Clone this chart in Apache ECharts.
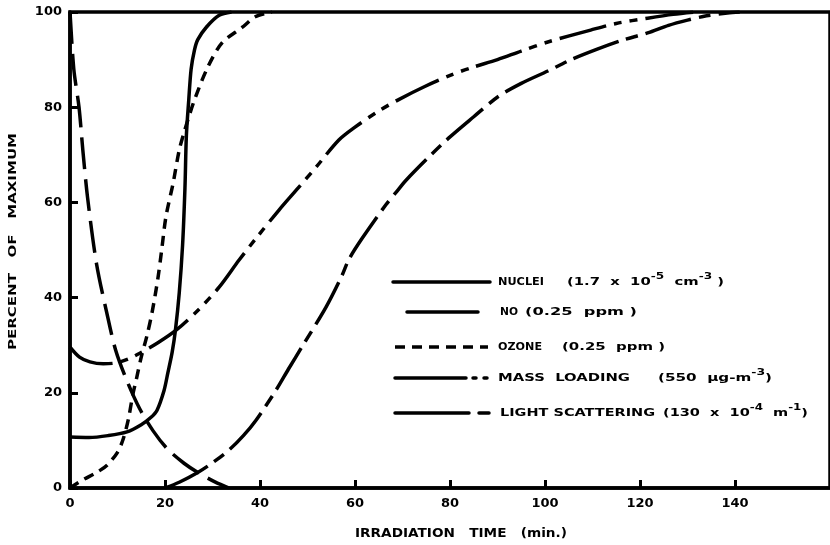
<!DOCTYPE html>
<html>
<head>
<meta charset="utf-8">
<script src="https://cdn.jsdelivr.net/npm/echarts@6/dist/echarts.min.js"></script>
<style>
  html, body { margin: 0; padding: 0; background: #fff; }
  #chart { width: 830px; height: 545px; }
</style>
</head>
<body>
<div id="chart"></div>
<script>
// Tick values shown on the axes
const xTickLabels = [0, 20, 40, 60, 80, 100, 120, 140];
const yTickLabels = [0, 20, 40, 60, 80, 100];

// [irradiation time (min), percent of maximum]
const nuclei = [
  [0, 10.7], [4, 10.6], [8, 11], [12, 11.8], [15, 13.3], [17, 14.8], [18.3, 16.3],
  [19.8, 20.5], [20.6, 24.2], [21.5, 28.5], [22.2, 33.2], [23, 41], [23.7, 51],
  [24.2, 63], [24.5, 74], [25, 81.5], [25.5, 88], [26.2, 92], [26.9, 94.2],
  [28.7, 96.8], [31.4, 99.3], [34, 100]
];
const nitricOxide = [
  [0, 100], [0.8, 88], [1.9, 80], [2.7, 71], [3.7, 61], [5.6, 47], [7.7, 37],
  [9.6, 29], [12, 22.5], [14.7, 16.6], [17.5, 12], [20.5, 8.2], [24, 5.2],
  [27, 3.2], [30.5, 1.3], [33.5, 0]
];
const ozone = [
  [0, 0], [2.7, 1.7], [5.5, 3.2], [7.8, 4.8], [10, 7.5], [11.2, 10.3], [12.3, 14.5],
  [13.2, 19.5], [14, 23], [15, 27.5], [16.2, 32], [17.3, 37], [18.5, 44], [19.3, 50],
  [20.2, 57], [21.7, 64], [23, 71], [24.1, 75], [26.2, 81.5], [29, 88.4], [32, 93.5],
  [36.3, 96.8], [39, 99], [42.5, 100]
];
const massLoading = [
  [0, 29.6], [2, 27.5], [4.2, 26.5], [7, 26.1], [9.8, 26.3], [12.5, 27.2], [14.7, 28.3],
  [18.5, 30.5], [22.4, 33.2], [27, 37.4], [31.4, 42.2], [35.6, 47.9], [39.2, 52.5],
  [44, 58.4], [48, 63], [51.8, 67.4], [56.6, 73.1], [60, 75.8], [65, 79.2], [69.2, 81.6],
  [74.8, 84.4], [80.3, 86.8], [84.5, 88.3], [90, 90], [95, 91.8], [100.6, 93.7],
  [109.6, 96.2], [115, 97.6], [121.6, 98.7], [127, 99.5], [132, 100]
];
const lightScattering = [
  [20, 0], [23, 1.2], [26.8, 3.2], [30, 5.3], [33.5, 8], [36.5, 11], [39.2, 14.3],
  [43.4, 20.6], [46, 25], [48.8, 29.6], [53.9, 38], [57.2, 44.5], [58.7, 48],
  [61.4, 52.3], [66.5, 59.5], [69.2, 62.8], [70.6, 64.5], [75, 69], [79.7, 73.5],
  [85, 78], [90.1, 82.2], [95, 85], [100.6, 87.6], [105.5, 90], [111, 92.2], [116, 94],
  [121.6, 95.6], [126, 97.2], [130, 98.3], [134, 99.2], [138.4, 99.8], [141, 100]
];

// Key entries: name and parenthetical unit text ({s|..} marks a superscript)
const keyNames = ['NUCLEI', 'NO', 'OZONE', 'MASS  LOADING', 'LIGHT SCATTERING'];
const keyUnits = ['(1.7  x  10{s|-5}  cm{s|-3} )', '(0.25  ppm )', '(0.25  ppm )', '(550  µg-m{s|-3})', '(130  x  10{s|-4}  m{s|-1})'];

// ---- styling ----
const INK = '#000';
const FONT = 'DejaVu Sans';
const LW = 3.5;
// dash / gap lengths in pixels
const dashPx = {
  longDash: [32, 10],
  shortDash: [10, 7],
  dashDotDot: [48, 8, 8, 8, 8, 8],
  dashDot: [48, 8, 12, 8]
};

function curve(name, data, dash, z) {
  return {
    name, type: 'line', data, z,
    showSymbol: false, symbol: 'none', smooth: 0.3,
    lineStyle: { color: INK, width: LW, type: dash || 'solid', cap: 'butt', join: 'round' },
    emphasis: { disabled: true }
  };
}

// Text measuring for fitting labels to a set width
const measureCtx = document.createElement('canvas').getContext('2d');
function richWidth(text, size, supSize) {
  let w = 0;
  text.split(/(\{s\|[^}]*\})/).forEach(part => {
    if (!part) return;
    const m = part.match(/^\{s\|([^}]*)\}$/);
    measureCtx.font = 'bold ' + (m ? supSize : size) + 'px "' + FONT + '"';
    w += measureCtx.measureText(m ? m[1] : part).width;
  });
  return w;
}
function fittedText(text, x, y, width, size, extra) {
  const supSize = Math.round(size * 0.8);
  const rich = text.indexOf('{s|') >= 0;
  const body = rich ? text.replace(/(^|\})([^{]+)/g, (m, a, b) => a + '{a|' + b + '}') : text;
  const el = {
    type: 'text', silent: true, x, y,
    scaleX: width / richWidth(text, size, supSize),
    style: {
      text: body, fill: INK,
      font: 'bold ' + size + 'px "' + FONT + '"',
      textAlign: 'left', textVerticalAlign: 'middle'
    }
  };
  if (rich) {
    el.style.rich = {
      a: { fontSize: size, fontWeight: 'bold', fontFamily: FONT, lineHeight: size + 8, verticalAlign: 'middle', fill: INK },
      s: { fontSize: supSize, fontWeight: 'bold', fontFamily: FONT, lineHeight: supSize + 1, verticalAlign: 'top', fill: INK }
    };
  }
  return Object.assign(el, extra || {});
}

// Key layout (pixel positions)
const keyRows = [
  { y: 282, seg: [[393, 490]], dash: null, nameX: 498, nameW: 46, unitX: 567, unitW: 157 },
  { y: 312, seg: [[407, 478]], dash: null, nameX: 500, nameW: 18, unitX: 525, unitW: 112 },
  { y: 347, seg: [[395, 488]], dash: dashPx.shortDash, nameX: 498, nameW: 44, unitX: 562, unitW: 103 },
  { y: 378, seg: [[395, 466], [473, 476], [484, 487]], dash: null, nameX: 498, nameW: 132, unitX: 658, unitW: 114 },
  { y: 413, seg: [[395, 469], [479, 489]], dash: null, nameX: 500, nameW: 155, unitX: 663, unitW: 145 }
];

const graphics = [];
keyRows.forEach((row, i) => {
  row.seg.forEach(s => {
    graphics.push({
      type: 'line', silent: true,
      shape: { x1: s[0], y1: row.y, x2: s[1], y2: row.y },
      style: { stroke: INK, lineWidth: LW, lineCap: row.dash ? 'butt' : 'round', lineDash: row.dash }
    });
  });
  graphics.push(fittedText(keyNames[i], row.nameX, row.y, row.nameW, 11));
  graphics.push(fittedText(keyUnits[i], row.unitX, row.y, row.unitW, 11));
});

// Axis titles
graphics.push(fittedText('IRRADIATION   TIME   (min.)', 355, 534, 212, 12));
graphics.push(fittedText('PERCENT   OF   MAXIMUM', 13, 350, 217, 11, { rotation: Math.PI / 2 }));

const axisCommon = {
  type: 'value',
  interval: 20,
  splitLine: { show: false },
  axisLine: { show: true, onZero: false, lineStyle: { color: INK, width: LW } },
  axisTick: { show: true, inside: true, length: 8, lineStyle: { color: INK, width: 3 } },
  axisLabel: { color: INK, fontFamily: FONT, fontWeight: 'bold', fontSize: 13 }
};

const chart = echarts.init(document.getElementById('chart'), null, { renderer: 'canvas' });
chart.setOption({
  animation: false,
  backgroundColor: '#fff',
  grid: { left: 70, top: 12, right: -3, bottom: 57, show: true, borderColor: INK, borderWidth: LW },
  xAxis: Object.assign({}, axisCommon, {
    min: 0, max: 160,
    axisLabel: Object.assign({}, axisCommon.axisLabel, {
      margin: 9, showMaxLabel: false,
      formatter: v => (xTickLabels.includes(v) ? String(v) : '')
    })
  }),
  yAxis: Object.assign({}, axisCommon, {
    min: 0, max: 100,
    axisLabel: Object.assign({}, axisCommon.axisLabel, {
      margin: 8,
      formatter: v => (yTickLabels.includes(v) ? String(v) : '')
    })
  }),
  series: [
    curve('NUCLEI', nuclei, null, 5),
    curve('NO', nitricOxide, dashPx.longDash, 4),
    curve('OZONE', ozone, dashPx.shortDash, 3),
    curve('MASS LOADING', massLoading, dashPx.dashDotDot, 2),
    curve('LIGHT SCATTERING', lightScattering, dashPx.dashDot, 2)
  ],
  graphic: graphics
});
</script>
</body>
</html>
